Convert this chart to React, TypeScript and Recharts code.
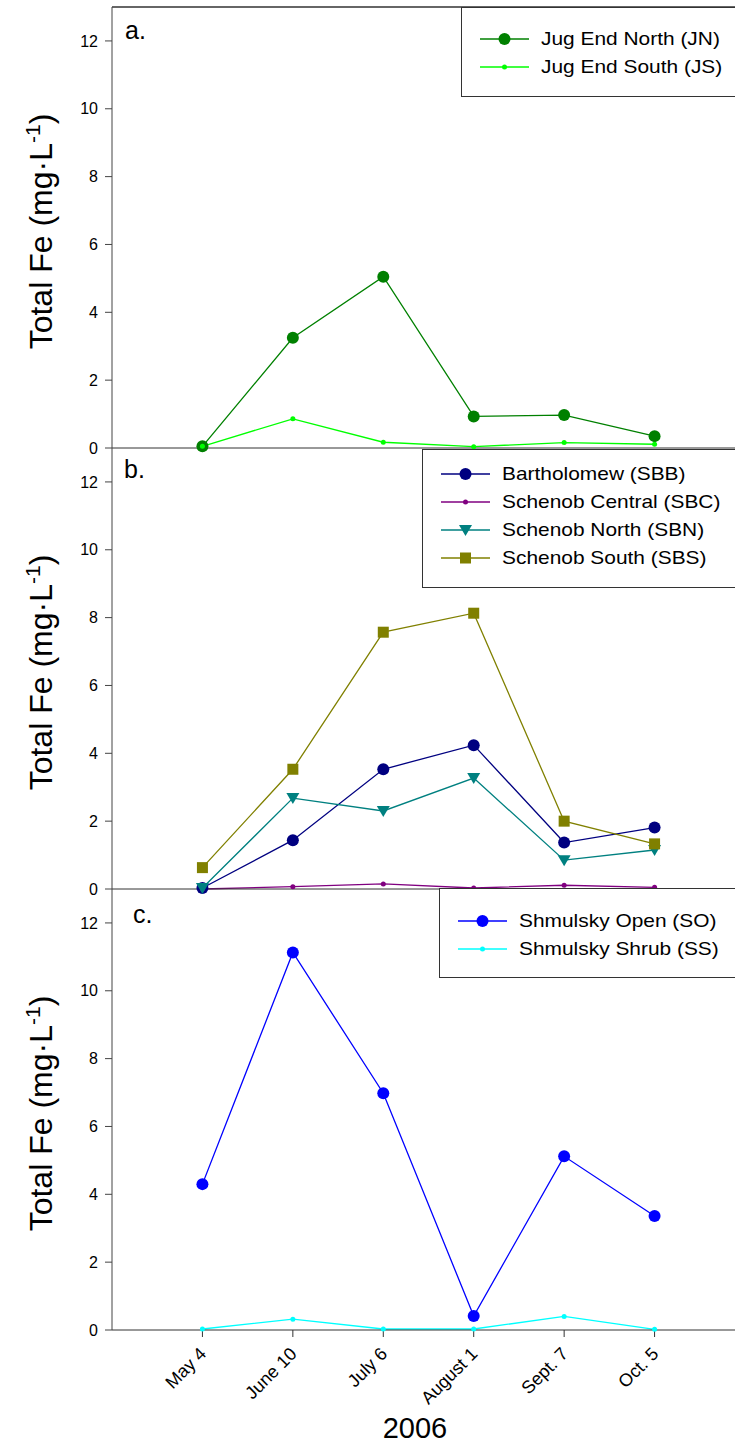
import React from 'react'
import { LineChart, Line, XAxis, YAxis, ReferenceLine } from 'recharts'

const FONT = 'Arial, "Liberation Sans", Helvetica, sans-serif'

// sampling dates (2006)
const dates = ['May 4', 'June 10', 'July 6', 'August 1', 'Sept. 7', 'Oct. 5']
const yTicks = [0, 2, 4, 6, 8, 10, 12]

// total Fe, mg/L
const jugEndNorth = [0.05, 3.25, 5.05, 0.93, 0.97, 0.35]
const jugEndSouth = [0.05, 0.86, 0.17, 0.04, 0.16, 0.11]

const bartholomew = [0.03, 1.44, 3.53, 4.24, 1.37, 1.81]
const schenobCentral = [0.0, 0.07, 0.15, 0.03, 0.11, 0.05]
const schenobNorth = [0.03, 2.68, 2.3, 3.27, 0.85, 1.15]
const schenobSouth = [0.63, 3.53, 7.57, 8.13, 2.0, 1.33]

const shmulskyOpen = [4.3, 11.13, 6.98, 0.41, 5.12, 3.36]
const shmulskyShrub = [0.03, 0.32, 0.03, 0.03, 0.4, 0.02]

type Shape = 'circle' | 'dot' | 'triangle' | 'square'

interface Series {
  key: string
  name: string
  color: string
  shape: Shape
  values: number[]
}

const panelA: Series[] = [
  { key: 'jn', name: 'Jug End North (JN)', color: '#008000', shape: 'circle', values: jugEndNorth },
  { key: 'js', name: 'Jug End South (JS)', color: '#00ff00', shape: 'dot', values: jugEndSouth },
]
const panelB: Series[] = [
  { key: 'sbb', name: 'Bartholomew (SBB)', color: '#000080', shape: 'circle', values: bartholomew },
  { key: 'sbc', name: 'Schenob Central (SBC)', color: '#800080', shape: 'dot', values: schenobCentral },
  { key: 'sbn', name: 'Schenob North (SBN)', color: '#008080', shape: 'triangle', values: schenobNorth },
  { key: 'sbs', name: 'Schenob South (SBS)', color: '#808000', shape: 'square', values: schenobSouth },
]
const panelC: Series[] = [
  { key: 'so', name: 'Shmulsky Open (SO)', color: '#0000ff', shape: 'circle', values: shmulskyOpen },
  { key: 'ss', name: 'Shmulsky Shrub (SS)', color: '#00ffff', shape: 'dot', values: shmulskyShrub },
]

function Marker({ shape, color, cx, cy }: { shape: Shape; color: string; cx: number; cy: number }) {
  if (shape === 'circle') return <circle cx={cx} cy={cy} r={6} fill={color} />
  if (shape === 'dot') return <circle cx={cx} cy={cy} r={2.5} fill={color} />
  if (shape === 'triangle')
    return <path d={`M${cx - 6.5},${cy - 5} L${cx + 6.5},${cy - 5} L${cx},${cy + 6} Z`} fill={color} />
  return <rect x={cx - 5.5} y={cy - 5.5} width={11} height={11} fill={color} />
}

function DateTick({ x, y, payload }: any) {
  const label = dates[payload.value - 1]
  const ax = x + 5
  const ay = y + 16
  return (
    <text
      x={ax}
      y={ay}
      transform={`rotate(-45, ${ax}, ${ay})`}
      textAnchor="end"
      fontSize={18}
      fontFamily={FONT}
      fill="#000"
    >
      {label}
    </text>
  )
}

interface PanelProps {
  top: number
  series: Series[]
  letter: string
  letterX: number
  letterY: number
  bottom?: boolean
}

const CHART_W = 760
const PLOT_H = 441

function Panel({ top, series, letter, letterX, letterY, bottom }: PanelProps) {
  const data = dates.map((_, i) => {
    const row: Record<string, number> = { x: i + 1 }
    series.forEach((s) => (row[s.key] = s.values[i]))
    return row
  })
  const axisH = bottom ? 116 : 10
  const height = 7 + PLOT_H + axisH

  const yLabel = (p: any) => {
    const vb = p.viewBox
    const cy = vb.y + vb.height / 2 + 4
    return (
      <g>
        <text
          x={52}
          y={cy}
          transform={`rotate(-90, 52, ${cy})`}
          textAnchor="middle"
          fontSize={32}
          fontFamily={FONT}
          fill="#000"
        >
          Total Fe (mg·L
          <tspan dy={-12} fontSize={21}>-1</tspan>
          <tspan dy={12}>)</tspan>
        </text>
        <text x={letterX} y={letterY} fontSize={25} fontFamily={FONT} fill="#000">
          {letter}
        </text>
      </g>
    )
  }

  const xLabel = (p: any) => {
    const vb = p.viewBox
    return (
      <text x={415} y={vb.y + 108} textAnchor="middle" fontSize={29} fontFamily={FONT} fill="#000">
        2006
      </text>
    )
  }

  return (
    <div style={{ position: 'absolute', left: 0, top }}>
      <LineChart width={CHART_W} height={height} data={data} margin={{ top: 7, right: 15, bottom: 0, left: 0 }}>
        <XAxis
          dataKey="x"
          type="number"
          domain={[0, 7]}
          ticks={[1, 2, 3, 4, 5, 6]}
          height={axisH}
          stroke="#333"
          tickSize={bottom ? 7 : 4}
          tick={bottom ? <DateTick /> : false}
          interval={0}
          label={bottom ? xLabel : undefined}
        />
        <YAxis
          type="number"
          domain={[0, 13]}
          ticks={yTicks}
          width={112}
          stroke="#444"
          tickSize={7}
          tickMargin={7}
          interval={0}
          tick={{ fontSize: 16, fontFamily: FONT, fill: '#000' }}
          label={yLabel}
        />
        {letter === 'a.' && <ReferenceLine y={13} stroke="#333" strokeWidth={1.5} />}
        {series.map((s) => (
          <Line
            key={s.key}
            dataKey={s.key}
            stroke={s.color}
            strokeWidth={1.3}
            isAnimationActive={false}
            dot={(p: any) => (
              <Marker key={`${s.key}-${p.index}`} shape={s.shape} color={s.color} cx={p.cx} cy={p.cy} />
            )}
          />
        ))}
      </LineChart>
    </div>
  )
}

interface LegendProps {
  left: number
  top: number
  height: number
  rows: number[]
  series: Series[]
}

function LegendBox({ left, top, height, rows, series }: LegendProps) {
  return (
    <div
      style={{
        position: 'absolute',
        left,
        top,
        width: 760 - left,
        height,
        border: '1.5px solid #333',
        background: '#fff',
        boxSizing: 'border-box',
        fontFamily: FONT,
      }}
    >
      {series.map((s, i) => (
        <div
          key={s.key}
          style={{
            position: 'absolute',
            left: 0,
            top: rows[i] - 12,
            height: 24,
            display: 'flex',
            alignItems: 'center',
          }}
        >
          <svg width={50} height={16} style={{ marginLeft: 18, display: 'block' }}>
            <line x1={0} y1={8} x2={49} y2={8} stroke={s.color} strokeWidth={1.3} />
            <Marker shape={s.shape} color={s.color} cx={24.5} cy={8} />
          </svg>
          <span
            style={{
              marginLeft: 11,
              fontSize: 19,
              color: '#000',
              whiteSpace: 'nowrap',
              display: 'inline-block',
              transform: 'scaleX(1.1)',
              transformOrigin: 'left center',
            }}
          >
            {s.name}
          </span>
        </div>
      ))}
    </div>
  )
}

export default function App() {
  return (
    <div style={{ position: 'absolute', left: 0, top: 0, width: 735, height: 1446, overflow: 'hidden', background: '#fff' }}>
      <Panel top={0} series={panelA} letter="a." letterX={125} letterY={39} />
      <Panel top={441} series={panelB} letter="b." letterX={124} letterY={478 - 441} />
      <Panel top={882} series={panelC} letter="c." letterX={133} letterY={923 - 882} bottom />
      <LegendBox left={461} top={7} height={90} rows={[31, 59]} series={panelA} />
      <LegendBox left={422} top={449} height={139} rows={[24, 52, 80, 108]} series={panelB} />
      <LegendBox left={439} top={888} height={90} rows={[32, 60]} series={panelC} />
    </div>
  )
}
